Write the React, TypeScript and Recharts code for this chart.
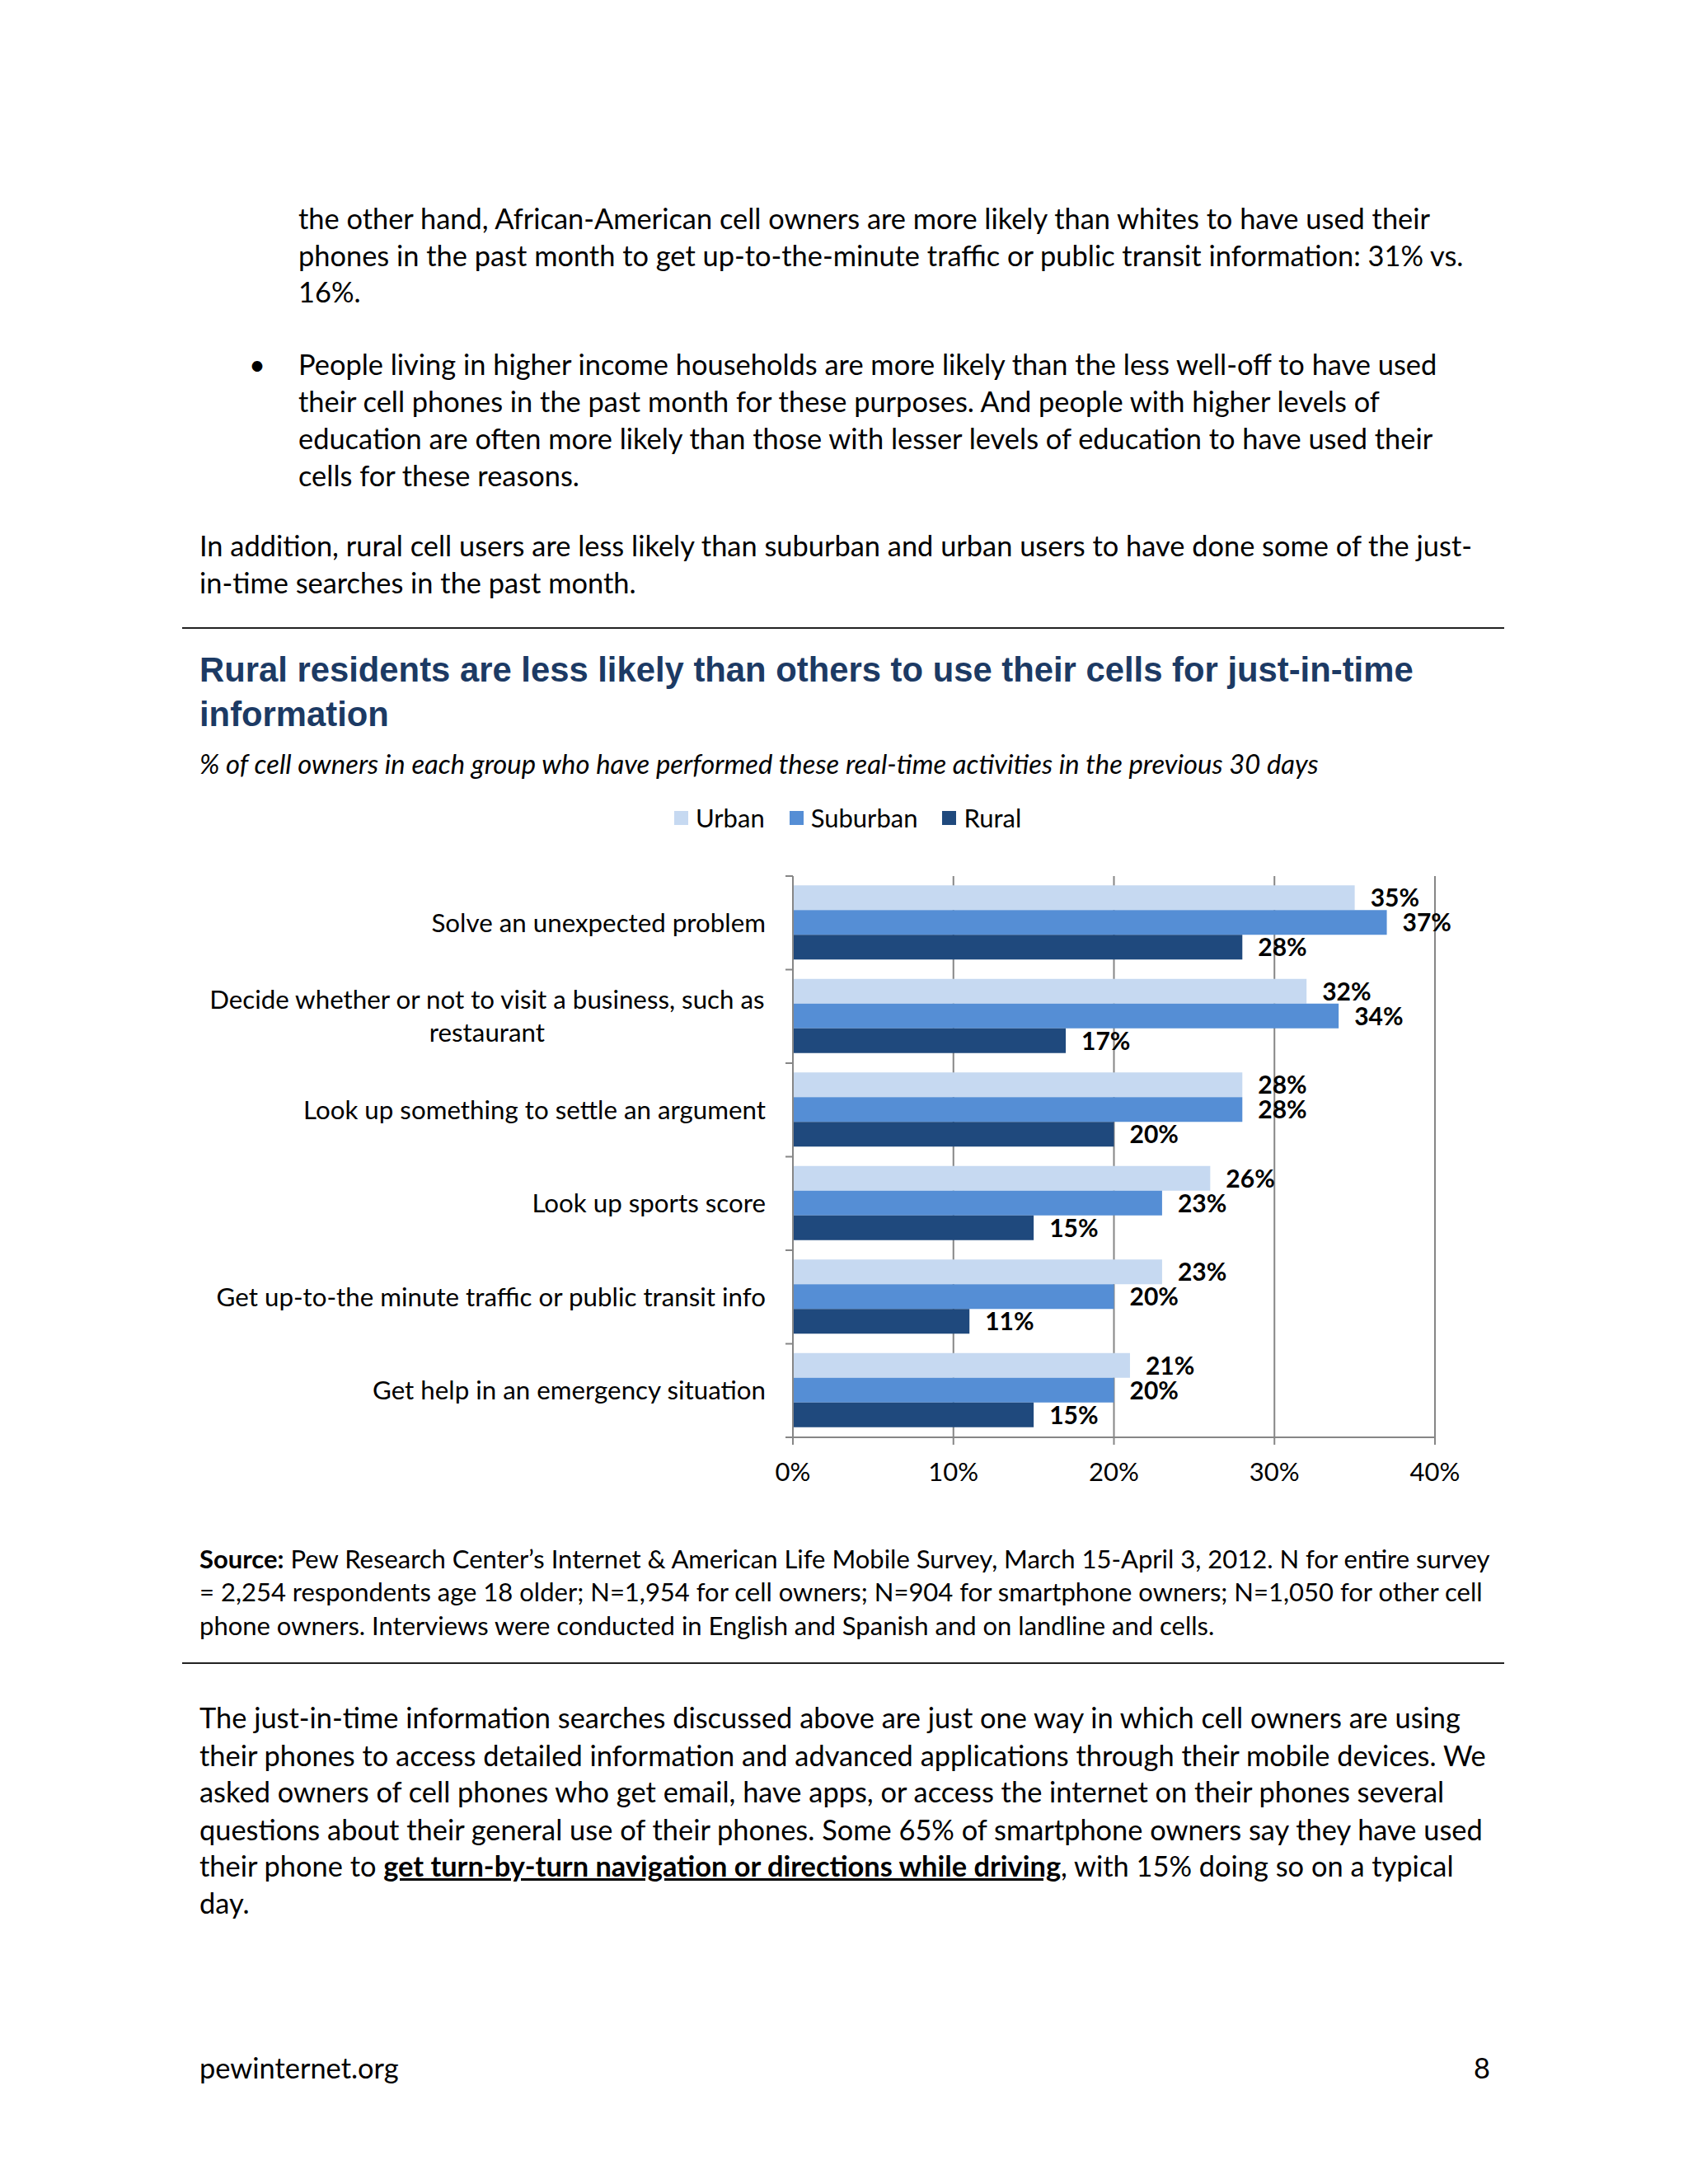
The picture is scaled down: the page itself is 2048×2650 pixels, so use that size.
import React from 'react'
import { BarChart, Bar, XAxis, YAxis, CartesianGrid, LabelList, Legend } from 'recharts'

// chart data
const categories = [
  'Solve an unexpected problem',
  'Decide whether or not to visit a business, such as\nrestaurant',
  'Look up something to settle an argument',
  'Look up sports score',
  'Get up-to-the minute traffic or public transit info',
  'Get help in an emergency situation',
]
const urban = [35, 32, 28, 26, 23, 21]
const suburban = [37, 34, 28, 23, 20, 20]
const rural = [28, 17, 20, 15, 11, 15]
const xTicks = [0, 10, 20, 30, 40]
const seriesKeys = ['urban', 'suburban', 'rural']
const seriesNames = ['Urban', 'Suburban', 'Rural']
const seriesColors = ['#c6d9f1', '#558ed5', '#1f497d']

const data = categories.map((name, i) => ({
  name,
  urban: urban[i],
  suburban: suburban[i],
  rural: rural[i],
}))

const FONT = 'Lato, "Open Sans", sans-serif'
const GRAY = '#868686'

// chart geometry (page coords: chart box at 200,960)
const CH_LEFT = 200
const CH_TOP = 960
const CH_W = 1610
const CH_H = 880
const MARGIN = { top: 103, right: 69, bottom: 16, left: 0 }
const Y_W = 762
const X_H = 80
const BAND = (CH_H - MARGIN.top - MARGIN.bottom - X_H) / categories.length
const CAT_SIZE = 31.3
const BODY = 34.4

let measureCtx: CanvasRenderingContext2D | null = null
const textWidth = (s: string, font: string) => {
  if (!measureCtx) measureCtx = document.createElement('canvas').getContext('2d')
  if (!measureCtx) return s.length * 15
  measureCtx.font = font
  return measureCtx.measureText(s).width
}

const CategoryTick = (props: any) => {
  const { y, payload, index } = props
  const lines: string[] = String(payload.value).split('\n')
  const font = `${CAT_SIZE}px Lato`
  const blockW = Math.max(...lines.map((l) => textWidth(l, font)))
  const right = Y_W - 33
  const cx = right - blockW / 2
  const lh = 40
  const y0 = y - ((lines.length - 1) * lh) / 2
  const top = y - BAND / 2
  return (
    <g>
      <line x1={Y_W - 9} x2={Y_W} y1={top} y2={top} stroke={GRAY} strokeWidth={2} />
      {index === categories.length - 1 && (
        <line x1={Y_W - 9} x2={Y_W} y1={y + BAND / 2} y2={y + BAND / 2} stroke={GRAY} strokeWidth={2} />
      )}
      {lines.map((l, i) => (
        <text
          key={i}
          x={lines.length > 1 ? cx : right}
          y={y0 + i * lh}
          dy="0.35em"
          textAnchor={lines.length > 1 ? 'middle' : 'end'}
          fontFamily={FONT}
          fontSize={CAT_SIZE}
          fill="#000"
        >
          {l}
        </text>
      ))}
    </g>
  )
}

const LegendContent = () => (
  <div style={{ display: 'flex', alignItems: 'center', fontFamily: FONT, fontSize: 31, color: '#000', whiteSpace: 'nowrap' }}>
    {seriesNames.map((n, i) => (
      <div key={n} style={{ display: 'flex', alignItems: 'center', marginRight: 30 }}>
        <span style={{ display: 'inline-block', width: 17, height: 17, background: seriesColors[i], marginRight: 9 }} />
        <span>{n}</span>
      </div>
    ))}
  </div>
)

const Txt = ({ x, y, size = BODY, lh = 45, children, style }: any) => (
  <div
    style={{
      position: 'absolute',
      left: x,
      top: y - lh / 2,
      fontSize: size,
      lineHeight: `${lh}px`,
      whiteSpace: 'nowrap',
      ...style,
    }}
  >
    {children}
  </div>
)

const Rule = ({ y }: { y: number }) => (
  <div style={{ position: 'absolute', left: 221, top: y - 1, width: 1604, height: 2, background: '#222' }} />
)

const titleStyle = { fontFamily: '"Liberation Sans", Arial, sans-serif', fontWeight: 700, color: '#1c3a64' }

export default function App() {
  return (
    <div
      style={{
        position: 'absolute',
        left: 0,
        top: 0,
        width: 2048,
        height: 2650,
        background: '#fff',
        fontFamily: FONT,
        color: '#000',
        overflow: 'hidden',
      }}
    >
      <Txt x={362} y={264}>the other hand, African-American cell owners are more likely than whites to have used their</Txt>
      <Txt x={362} y={309}>phones in the past month to get up-to-the-minute traffic or public transit information: 31% vs.</Txt>
      <Txt x={362} y={353}>16%.</Txt>

      <Txt x={302} y={441}>•</Txt>
      <Txt x={362} y={441}>People living in higher income households are more likely than the less well-off to have used</Txt>
      <Txt x={362} y={486}>their cell phones in the past month for these purposes. And people with higher levels of</Txt>
      <Txt x={362} y={531}>education are often more likely than those with lesser levels of education to have used their</Txt>
      <Txt x={362} y={576}>cells for these reasons.</Txt>

      <Txt x={242} y={661}>In addition, rural cell users are less likely than suburban and urban users to have done some of the just-</Txt>
      <Txt x={242} y={706}>in-time searches in the past month.</Txt>

      <Rule y={762} />

      <Txt x={242} y={813} size={41.8} lh={54} style={titleStyle}>
        Rural residents are less likely than others to use their cells for just-in-time
      </Txt>
      <Txt x={242} y={867} size={41.8} lh={54} style={titleStyle}>
        information
      </Txt>
      <Txt x={242} y={926} size={32.8} style={{ fontStyle: 'italic' }}>
        % of cell owners in each group who have performed these real-time activities in the previous 30 days
      </Txt>

      <div style={{ position: 'absolute', left: CH_LEFT, top: CH_TOP }}>
        <BarChart
          width={CH_W}
          height={CH_H}
          data={data}
          layout="vertical"
          margin={MARGIN}
          barCategoryGap="10%"
          barGap={0}
        >
          <CartesianGrid horizontal={false} vertical stroke={GRAY} strokeWidth={2} />
          <XAxis
            type="number"
            domain={[0, 40]}
            ticks={xTicks}
            tickFormatter={(v: number) => `${v}%`}
            height={X_H}
            tickSize={9}
            tickMargin={22}
            axisLine={{ stroke: GRAY, strokeWidth: 2 }}
            tickLine={{ stroke: GRAY, strokeWidth: 2 }}
            tick={{ fill: '#000', fontSize: 31, fontFamily: FONT }}
          />
          <YAxis
            type="category"
            dataKey="name"
            width={Y_W}
            interval={0}
            tickLine={false}
            axisLine={{ stroke: GRAY, strokeWidth: 2 }}
            tick={<CategoryTick />}
          />
          <Legend
            layout="vertical"
            verticalAlign="middle"
            align="center"
            content={<LegendContent />}
            wrapperStyle={{ position: 'absolute', top: 995 - CH_TOP - 22, left: 818 - CH_LEFT, width: 'auto', height: 'auto' }}
          />
          {seriesKeys.map((k, i) => (
            <Bar key={k} dataKey={k} name={seriesNames[i]} fill={seriesColors[i]} isAnimationActive={false}>
              <LabelList
                dataKey={k}
                position="right"
                offset={19}
                formatter={(v: any) => `${v}%`}
                style={{ fill: '#000', fontWeight: 700, fontSize: 30, fontFamily: FONT }}
              />
            </Bar>
          ))}
        </BarChart>
      </div>

      <Txt x={242} y={1891} size={31} lh={40}>
        <b>Source:</b> Pew Research Center’s Internet &amp; American Life Mobile Survey, March 15-April 3, 2012. N for entire survey
      </Txt>
      <Txt x={242} y={1931} size={31} lh={40}>
        = 2,254 respondents age 18 older; N=1,954 for cell owners; N=904 for smartphone owners; N=1,050 for other cell
      </Txt>
      <Txt x={242} y={1972} size={31} lh={40}>
        phone owners. Interviews were conducted in English and Spanish and on landline and cells.
      </Txt>

      <Rule y={2018} />

      <Txt x={242} y={2083}>The just-in-time information searches discussed above are just one way in which cell owners are using</Txt>
      <Txt x={242} y={2129}>their phones to access detailed information and advanced applications through their mobile devices. We</Txt>
      <Txt x={242} y={2173}>asked owners of cell phones who get email, have apps, or access the internet on their phones several</Txt>
      <Txt x={242} y={2219}>questions about their general use of their phones. Some 65% of smartphone owners say they have used</Txt>
      <Txt x={242} y={2263}>
        their phone to <b style={{ textDecoration: 'underline' }}>get turn-by-turn navigation or directions while driving</b>, with 15% doing so on a typical
      </Txt>
      <Txt x={242} y={2308}>day.</Txt>

      <Txt x={242} y={2508}>pewinternet.org</Txt>
      <Txt x={1788} y={2508}>8</Txt>
    </div>
  )
}
